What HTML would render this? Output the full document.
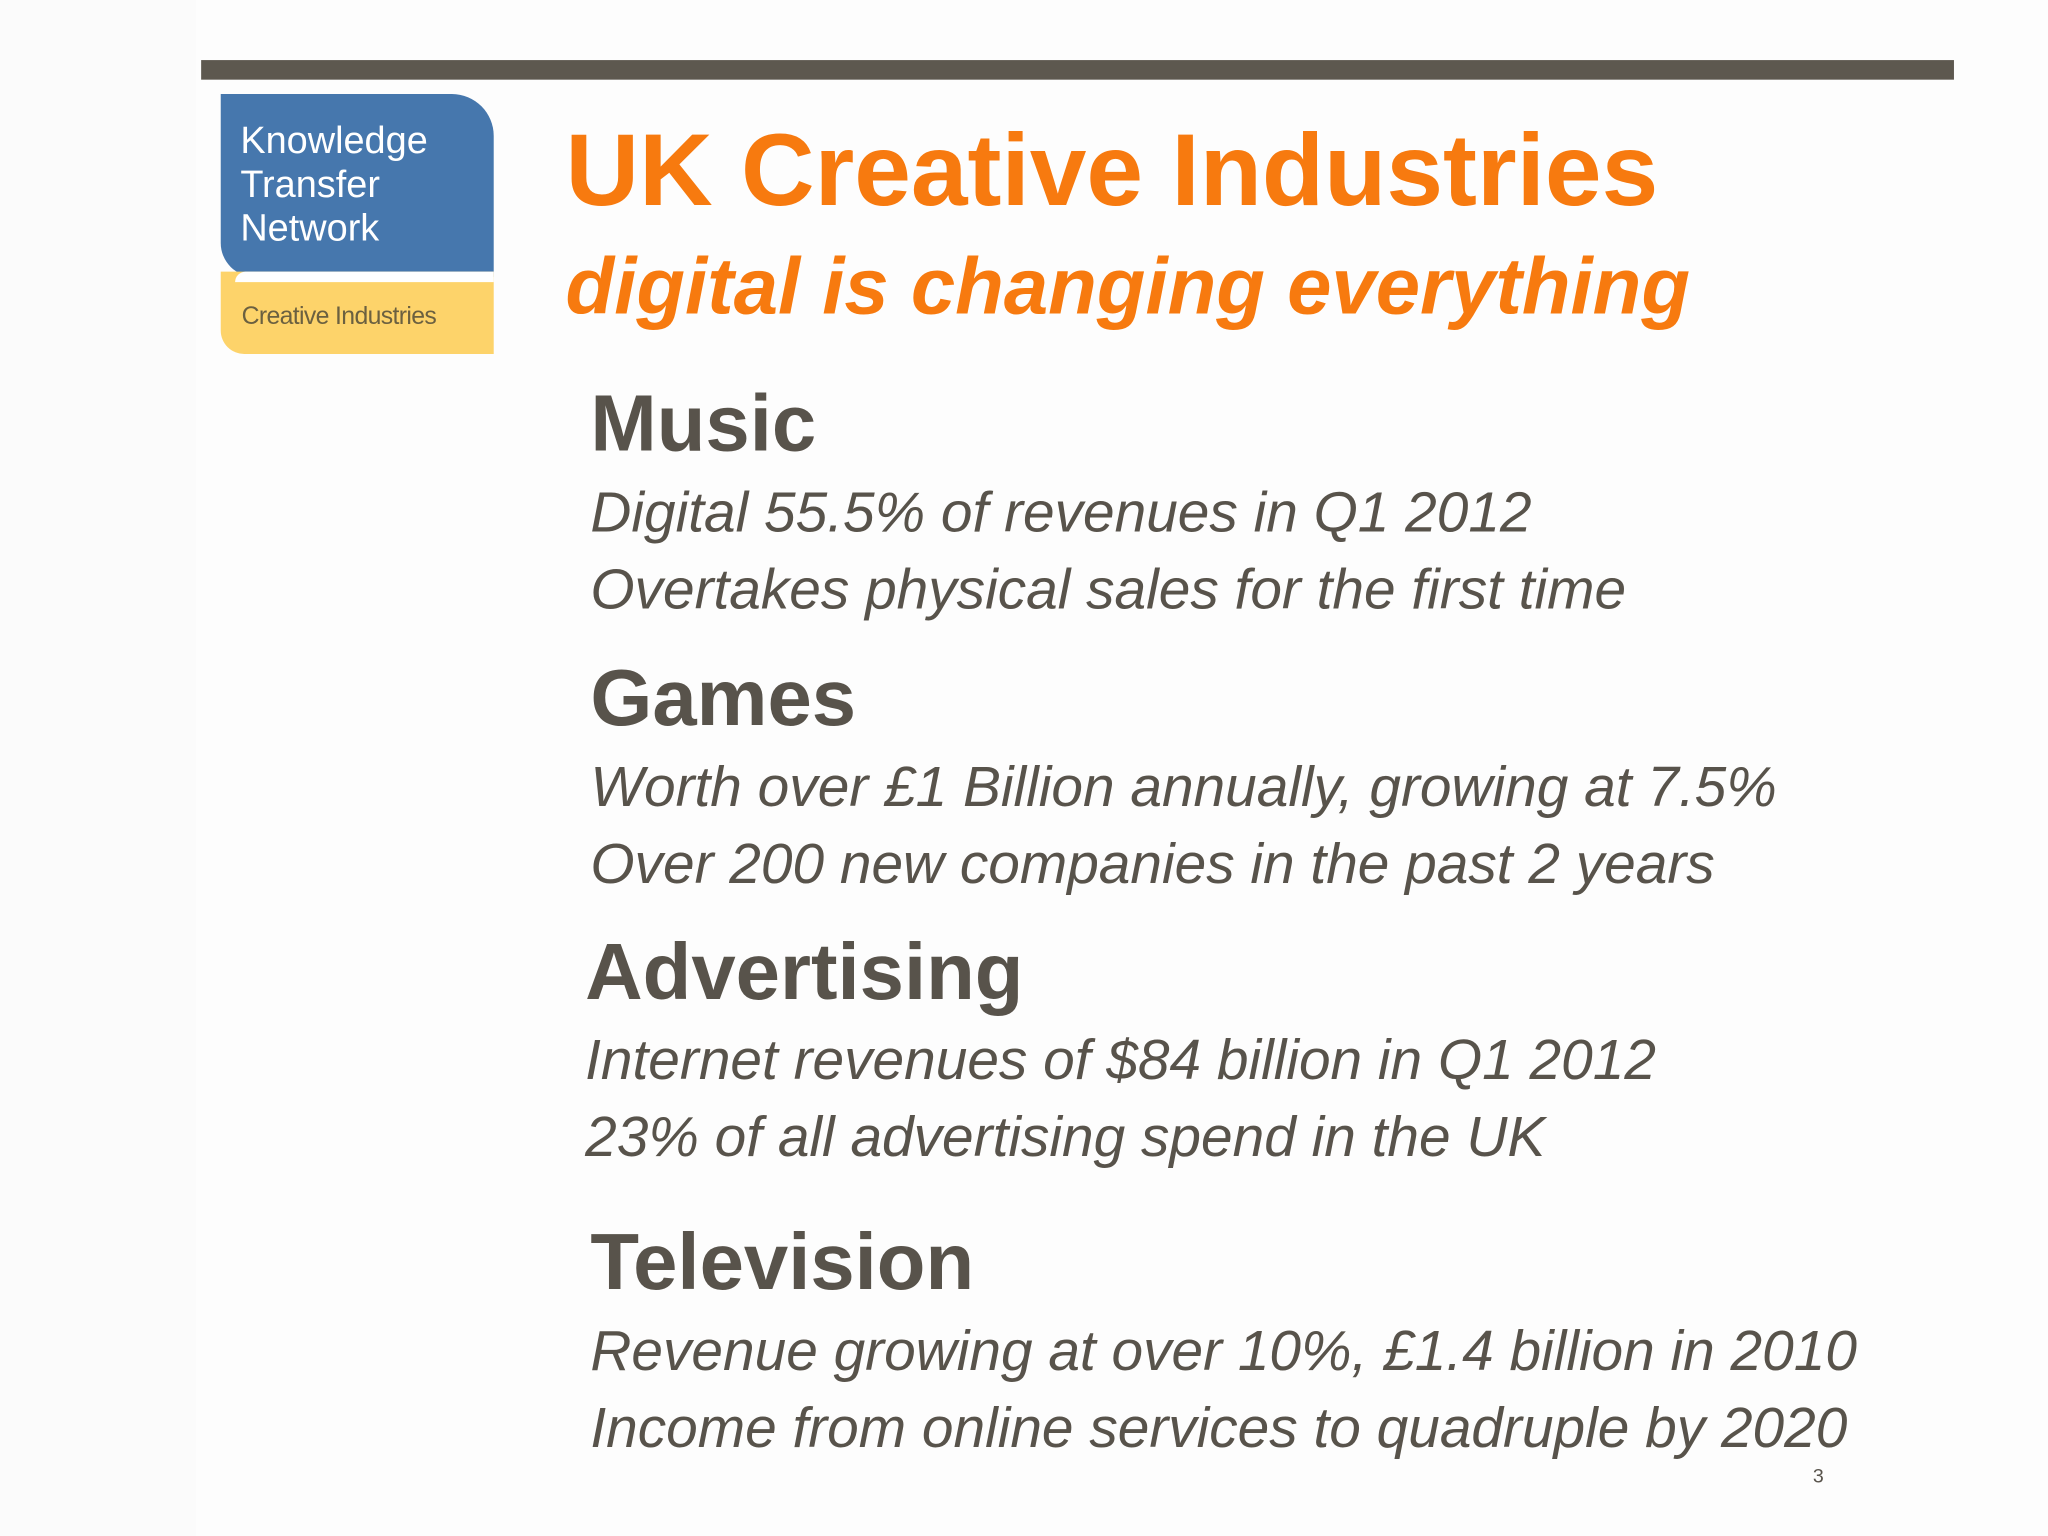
<!DOCTYPE html>
<html><head><meta charset="utf-8">
<style>
html,body{margin:0;padding:0;background:#fff;}
#stage{position:relative;width:1568px;height:1176px;transform:scale(1.306122,1.306122);transform-origin:0 0;overflow:hidden;background:#fdfdfd;font-family:"Liberation Sans",Arial,sans-serif;}
.t{position:absolute;white-space:nowrap;line-height:1;}
.h{font-weight:bold;color:#58534b;font-size:61px;}
.b{font-style:italic;color:#58534b;font-size:43.5px;}
</style></head><body>
<div id="stage">
  <div style="position:absolute;left:0;top:0;width:150px;height:1176px;background:#fbfbfb;"></div>
  <div style="position:absolute;left:154px;top:46px;width:1342px;height:15px;background:#5d584f;"></div>
  <div style="position:absolute;left:169px;top:72px;width:209px;height:140px;background:#4677ad;border-top-right-radius:32px;border-bottom-left-radius:26px;"></div>
  <div style="position:absolute;left:169px;top:208px;width:209px;height:63px;background:#fdd36a;border-bottom-left-radius:18px;"></div>
  <div style="position:absolute;left:180px;top:208px;width:198px;height:8px;background:#fff;border-top-left-radius:10px;"></div>
  <div class="t" style="left:184px;top:94px;font-size:29px;color:#fff;">Knowledge</div>
  <div class="t" style="left:184px;top:128px;font-size:29px;color:#fff;">Transfer</div>
  <div class="t" style="left:184px;top:161px;font-size:29px;color:#fff;">Network</div>
  <div class="t" style="left:185px;top:233px;font-size:19px;color:#6b6040;letter-spacing:-0.5px;">Creative Industries</div>

  <div class="t" style="left:433px;top:91px;font-size:78px;font-weight:bold;color:#f77a0f;">UK Creative Industries</div>
  <div class="t" style="left:433px;top:189px;font-size:61px;font-weight:bold;font-style:italic;color:#f77a0f;">digital is changing everything</div>

  <div class="t h" style="left:452px;top:294px;">Music</div>
  <div class="t b" style="left:452px;top:372px;">Digital 55.5% of revenues in Q1 2012</div>
  <div class="t b" style="left:452px;top:431px;">Overtakes physical sales for the first time</div>

  <div class="t h" style="left:452px;top:504px;">Games</div>
  <div class="t b" style="left:452px;top:582px;">Worth over £1 Billion annually, growing at 7.5%</div>
  <div class="t b" style="left:452px;top:641px;">Over 200 new companies in the past 2 years</div>

  <div class="t h" style="left:448px;top:714px;">Advertising</div>
  <div class="t b" style="left:448px;top:791px;">Internet revenues of $84 billion in Q1 2012</div>
  <div class="t b" style="left:448px;top:850px;">23% of all advertising spend in the UK</div>

  <div class="t h" style="left:452px;top:936px;">Television</div>
  <div class="t b" style="left:452px;top:1014px;">Revenue growing at over 10%, £1.4 billion in 2010</div>
  <div class="t b" style="left:452px;top:1073px;">Income from online services to quadruple by 2020</div>

  <div class="t" style="left:1388px;top:1123px;font-size:15px;color:#58534b;">3</div>
</div>
</body></html>
